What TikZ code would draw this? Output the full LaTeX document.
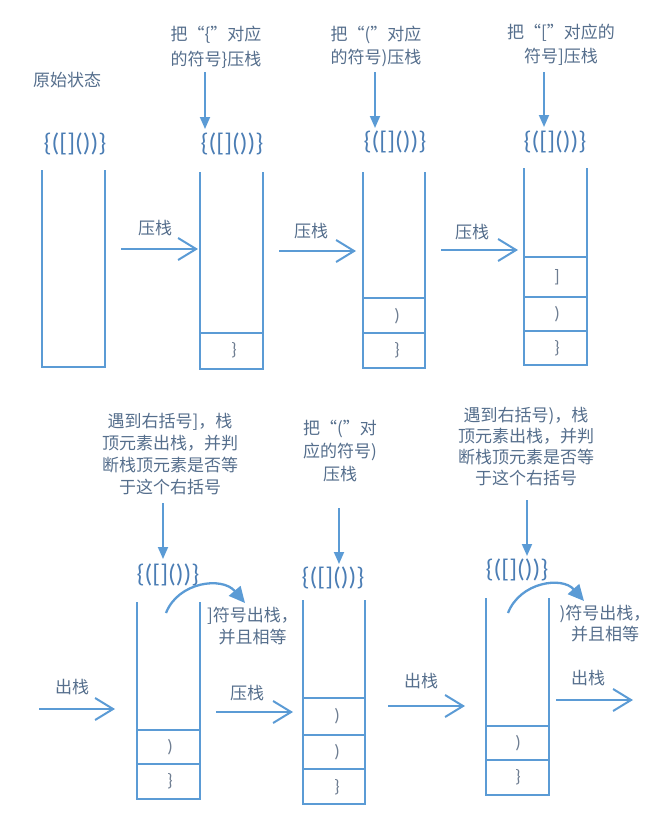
\documentclass[tikz,border=0pt]{standalone}
\usepackage{fontspec}
\setmainfont{Carlito}
\newfontfamily\cjk{Noto Sans CJK SC}
\usetikzlibrary{arrows.meta}
\definecolor{lineblue}{RGB}{91,155,213}
\definecolor{txt}{RGB}{85,110,140}
\definecolor{brk}{RGB}{75,125,180}
\definecolor{symc}{RGB}{110,125,145}
\newcommand\stkbox[4]{\draw[stk] (#1,#3) -- (#1,#4) -- (#2,#4) -- (#2,#3);}
\newcommand\cellline[3]{\draw[stk] (#1,#3) -- (#2,#3);}
\begin{document}
\begin{tikzpicture}[x=1pt,y=-1pt,
 stk/.style={draw=lineblue,line width=2pt},
 lbl/.style={text=txt,font=\cjk\fontsize{17}{24}\selectfont,align=center,inner sep=0pt},
 brs/.style={text=brk,font=\fontsize{25.5}{25.5}\selectfont,inner sep=0pt},
 sym/.style={text=symc,font=\fontsize{18}{18}\selectfont,inner sep=0pt},
 harr/.style={draw=lineblue,line width=2pt,-{Straight Barb[length=18pt,width=22pt,line width=2pt]}},
 varr/.style={draw=lineblue,line width=1.8pt,-{Triangle[length=12pt,width=10pt]}},
 carr/.style={draw=lineblue,line width=2.3pt,-{Triangle[length=16pt,width=15pt]}},
]
\useasboundingbox (0,0) rectangle (656,814);

% ---------- top row ----------
\node[lbl] (n1) at (67,80) {原始状态};
\node[lbl,font=\cjk\fontsize{17}{25}\selectfont] (t2) at (216,47.5) {把“\{”对应\\的符号\}压栈};
\node[lbl,font=\cjk\fontsize{17}{23}\selectfont] (t3) at (376,46.5) {把“(”对应\\的符号)压栈};
\node[lbl,font=\cjk\fontsize{17}{24}\selectfont] (t4) at (561,45) {把“[”对应的\\符号]压栈};

\node[brs] (s1) at (75,144) {\{([]())\}};
\node[brs] (s2) at (232,144) {\{([]())\}};
\node[brs] (s3) at (395,142) {\{([]())\}};
\node[brs] (s4) at (555,142) {\{([]())\}};

\coordinate (a2s) at (205,72); \coordinate (a2e) at (205,129);
\coordinate (a3s) at (375,72); \coordinate (a3e) at (375,128);
\coordinate (a4s) at (544,72); \coordinate (a4e) at (544,127);
\draw[varr] (a2s) -- (a2e);
\draw[varr] (a3s) -- (a3e);
\draw[varr] (a4s) -- (a4e);

\stkbox{42}{105}{170}{367}
\stkbox{200}{263}{172}{369}
\cellline{200}{263}{333}
\node[sym] (c21) at (234,350) {\}};
\stkbox{363}{425}{172}{368}
\cellline{363}{425}{298}
\cellline{363}{425}{333}
\node[sym] (c31) at (397,316) {)};
\node[sym] (c32) at (397,350) {\}};
\stkbox{524}{587}{168}{365}
\cellline{524}{587}{257}
\cellline{524}{587}{297}
\cellline{524}{587}{331}
\node[sym] (c41) at (557,277) {]};
\node[sym] (c42) at (557,314) {)};
\node[sym] (c43) at (557,348) {\}};

\coordinate (h1s) at (121,249); \coordinate (h1e) at (198,249);
\coordinate (h2s) at (279,251); \coordinate (h2e) at (356,251);
\coordinate (h3s) at (441,250); \coordinate (h3e) at (518,250);
\draw[harr] (h1s) -- (h1e);
\draw[harr] (h2s) -- (h2e);
\draw[harr] (h3s) -- (h3e);
\node[lbl] (l1) at (155,228) {压栈};
\node[lbl] (l2) at (311,231) {压栈};
\node[lbl] (l3) at (472,232) {压栈};

% ---------- bottom row ----------
\node[lbl,font=\cjk\fontsize{17}{21.7}\selectfont] (t5) at (170,454) {遇到右括号]，栈\\顶元素出栈，并判\\断栈顶元素是否等\\于这个右括号};
\node[lbl,font=\cjk\fontsize{17}{23}\selectfont] (t6) at (340,451) {把“(”对\\应的符号)\\压栈};
\node[lbl,font=\cjk\fontsize{17}{21}\selectfont] (t7) at (526,447) {遇到右括号)，栈\\顶元素出栈，并判\\断栈顶元素是否等\\于这个右括号};

\node[brs] (s5) at (168,575) {\{([]())\}};
\node[brs] (s6) at (333,578) {\{([]())\}};
\node[brs] (s7) at (517,570) {\{([]())\}};

\coordinate (a5s) at (163,503); \coordinate (a5e) at (163,559);
\coordinate (a6s) at (339,508); \coordinate (a6e) at (339,564);
\coordinate (a7s) at (527,500); \coordinate (a7e) at (527,556);
\draw[varr] (a5s) -- (a5e);
\draw[varr] (a6s) -- (a6e);
\draw[varr] (a7s) -- (a7e);

\coordinate (k5s) at (166,613); \coordinate (k5e) at (245,603);
\coordinate (k7s) at (508,613); \coordinate (k7e) at (584,601);
\draw[carr] (k5s) .. controls (178,582) and (222,576) .. (k5e);
\draw[carr] (k7s) .. controls (520,582) and (562,576) .. (k7e);
\node[lbl,font=\cjk\fontsize{17}{22}\selectfont] (r5) at (252.5,626) {]符号出栈，\\并且相等};
\node[lbl,font=\cjk\fontsize{17}{21}\selectfont] (r7) at (605,623.5) {)符号出栈，\\并且相等};

\stkbox{137}{200}{602}{799}
\cellline{137}{200}{730}
\cellline{137}{200}{764}
\node[sym] (c51) at (170,747) {)};
\node[sym] (c52) at (170,781) {\}};
\stkbox{303}{365}{600}{804}
\cellline{303}{365}{698}
\cellline{303}{365}{735}
\cellline{303}{365}{769}
\node[sym] (c61) at (337,716) {)};
\node[sym] (c62) at (337,752) {)};
\node[sym] (c63) at (337,787) {\}};
\stkbox{486}{549}{598}{795}
\cellline{486}{549}{726}
\cellline{486}{549}{760}
\node[sym] (c71) at (518,743) {)};
\node[sym] (c72) at (518,777) {\}};

\coordinate (h4s) at (39,709); \coordinate (h4e) at (115,709);
\coordinate (h5s) at (216,712); \coordinate (h5e) at (293,712);
\coordinate (h6s) at (388,706); \coordinate (h6e) at (465,706);
\coordinate (h7s) at (556,700); \coordinate (h7e) at (633,700);
\draw[harr] (h4s) -- (h4e);
\draw[harr] (h5s) -- (h5e);
\draw[harr] (h6s) -- (h6e);
\draw[harr] (h7s) -- (h7e);
\node[lbl] (l4) at (72,687) {出栈};
\node[lbl] (l5) at (247,693) {压栈};
\node[lbl] (l6) at (421,681) {出栈};
\node[lbl] (l7) at (588,678) {出栈};
\end{tikzpicture}
\end{document}
